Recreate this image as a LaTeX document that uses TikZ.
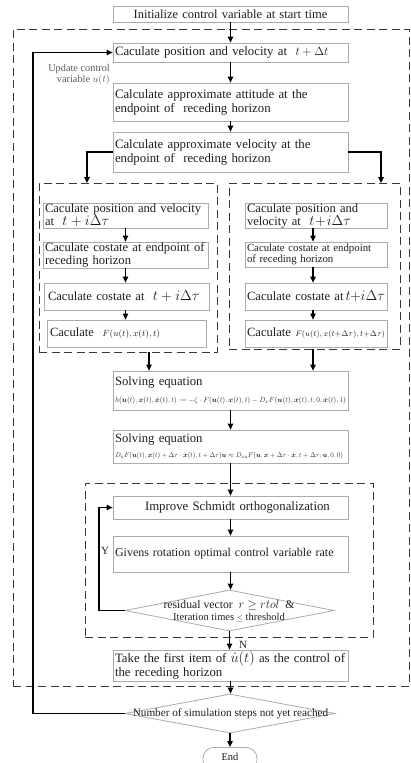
\documentclass[tikz,border=0pt]{standalone}
\usepackage{fontspec}
\setmainfont{Liberation Serif}
\usepackage{amsmath,amssymb}
\usepackage{graphicx}
\usetikzlibrary{arrows.meta,shapes.geometric}
\definecolor{boxline}{HTML}{ABABAB}
\definecolor{dashline}{HTML}{383838}
\definecolor{txt}{HTML}{1E1E1E}
\newcommand{\fsz}[2]{\fontsize{#1}{#2}\selectfont}
\newcommand{\tplus}{t\!+\!i\Delta\tau}
\begin{document}
\begin{tikzpicture}[x=1pt,y=-1pt,
  box/.style={draw=boxline, line width=0.8pt, inner xsep=2pt, inner ysep=0pt,
    align=left, text=txt, font=\fsz{12.8}{14}},
  grp/.style={draw=dashline, line width=1pt, dash pattern=on 8pt off 4.5pt,
    inner sep=0pt},
  arr/.style={draw=black, line width=1.1pt, -{Triangle[length=6pt,width=5.5pt]}},
  dia/.style={diamond, draw=boxline, line width=0.8pt, inner sep=0pt},
  lbl/.style={text=txt, inner sep=0pt},
]
\useasboundingbox (0,0) rectangle (411,763);

% dashed groupings
\node[grp, minimum width=396pt, minimum height=657pt] (outer) at (211,357.5) {};
\node[grp, minimum width=178pt, minimum height=169pt] (lgrp) at (128,267.5) {};
\node[grp, minimum width=171pt, minimum height=166pt] (rgrp) at (314.5,266) {};
\node[grp, minimum width=288pt, minimum height=154pt] (igrp) at (229,560) {};

% main column
\node[box, align=center, text width=231pt, minimum height=16pt, font=\fsz{12.5}{14}] (init) at (230.5,14)
  {Initialize control variable at start time};
\node[box, text width=231pt, minimum height=19pt] (pos) at (230.5,52.5)
  {Caculate position and velocity at \ $t+\Delta t$};
\node[box, text width=231pt, minimum height=38pt] (att) at (230.5,102)
  {Calculate approximate attitude at the\\endpoint of \ receding horizon};
\node[box, text width=231pt, minimum height=40pt] (vel) at (230.5,152)
  {Calculate approximate velocity at the\\endpoint of \ receding horizon};

% left branch
\node[box, text width=161pt, minimum height=25pt, font=\fsz{12.6}{13}] (L1) at (125.5,215.5)
  {Caculate position and velocity\\at \ {\fsz{15}{15}$t+i\Delta\tau$}};
\node[box, text width=161pt, minimum height=26pt, font=\fsz{12.6}{13}] (L2) at (125.5,255)
  {Caculate costate at endpoint of\\receding horizon};
\node[box, text width=161pt, minimum height=27pt, font=\fsz{12.6}{13}] (L3) at (126.5,296.5)
  {\hspace*{2pt}Caculate costate at \ {\fsz{15}{15}$t+i\Delta\tau$}};
\node[box, text width=155pt, minimum height=27pt, font=\fsz{12.6}{13}] (L4) at (126.5,333.5)
  {\hspace*{1pt}Caculate \ {\fsz{9.5}{10}$F(u(t),x(t),t)$}};

% right branch
\node[box, text width=138pt, minimum height=25pt, font=\fsz{12.6}{13}] (R1) at (316,215.5)
  {Caculate position and\\velocity at \ {\fsz{15}{15}$\tplus$}};
\node[box, text width=138pt, minimum height=25pt, font=\fsz{10.8}{11.5}] (R2) at (316,254.5)
  {Caculate costate at endpoint\\of receding horizon};
\node[box, text width=138pt, minimum height=27pt, font=\fsz{12.6}{13}] (R3) at (316,296.5)
  {Caculate costate at\,{\fsz{15}{15}$\tplus$}};
\node[box, text width=138pt, minimum height=27pt, font=\fsz{12.6}{13}] (R4) at (316,333.5)
  {Caculate {\fsz{7.8}{8}$F(u(t),x(t+\Delta\tau),t+\Delta\tau)$}};

% solving steps
\node[box, text width=231pt, minimum height=39pt, font=\fsz{12.7}{17}] (S1) at (230.5,390.5)
  {Solving equation\\
   \resizebox{231pt}{!}{$h(\boldsymbol{u}(t),\boldsymbol{x}(t),\dot{\boldsymbol{x}}(t),t)
   :=-\zeta\cdot F(\boldsymbol{u}(t),\boldsymbol{x}(t),t)
   -D_{x}F(\boldsymbol{u}(t),\boldsymbol{x}(t),t;0,\dot{\boldsymbol{x}}(t),1)$}};
\node[box, text width=231pt, minimum height=33pt, font=\fsz{12.7}{15.5}] (S2) at (230.5,446.5)
  {Solving equation\\
   \resizebox{228pt}{!}{$D_{u}F(\boldsymbol{u}(t),\boldsymbol{x}(t)+\Delta\tau\cdot\dot{\boldsymbol{x}}(t),t+\Delta\tau)\dot{\boldsymbol{u}}
   \approx D_{xu}F(\boldsymbol{u},\boldsymbol{x}+\Delta\tau\cdot\dot{\boldsymbol{x}},t+\Delta\tau;\dot{\boldsymbol{u}},0,0)$}};

% inner iteration
\node[box, text width=231pt, minimum height=23pt] (imp) at (230.5,507.5)
  {\hspace*{30pt}Improve Schmidt orthogonalization};
\node[box, text width=231pt, minimum height=36pt, font=\fsz{12}{14}] (giv) at (230.5,554)
  {Givens rotation optimal control variable rate};
\node[dia, minimum width=209pt, minimum height=41pt] (d1) at (229.5,610.5) {};
\node[lbl, align=center, font=\fsz{11.7}{12}] (d1t) at (229,611)
  {residual vector \ {$r\geq rtol$} \ \&\\{\fsz{10.5}{11}Iteration times {$\scriptstyle\leq$} threshold}};

\node[box, text width=231pt, minimum height=31pt, font=\fsz{12.8}{14}] (take) at (230.5,665.5)
  {Take the first item of {\fsz{13.5}{14}$\dot{u}(t)$} as the control of\\the receding horizon};
\node[dia, minimum width=210pt, minimum height=39pt] (d2) at (230,713.5) {};
\node[lbl, font=\fsz{11.2}{12}] (d2t) at (230.5,713.5)
  {Number of simulation steps not yet reached};
\node[draw=boxline, line width=0.8pt, rounded corners=11pt, minimum width=54pt,
  minimum height=24pt, inner sep=0pt, text=txt, font=\fsz{10.5}{11}, anchor=north] (endn) at (230,747)
  {\raisebox{5pt}{End}};

% labels
\node[lbl, align=right, anchor=north east, text=black!65, font=\fsz{10.3}{11.5}] (upd) at (110,64)
  {Update control\\variable {$u(t)$}};
\node[lbl, font=\fsz{11}{12}] (ylab) at (105,551) {Y};
\node[lbl, font=\fsz{11}{12}] (nlab) at (243,645) {N};

% connectors
\coordinate (lin) at (87,183);
\coordinate (rin) at (381,183);
\coordinate (lout) at (149,352);
\coordinate (rout) at (313,349);
\coordinate (yl) at (99,610.5);
\coordinate (fb) at (33,713.5);

\draw[arr] (init) -- (pos);
\draw[arr] (pos) -- (att);
\draw[arr] (att) -- (vel);
\draw[arr] (vel.west) -| (lin);
\draw[arr] (vel.east) -| (rin);
\draw[arr] (L1.south) -- (L1.south |- L2.north);
\draw[arr] (L2.south) -- (L2.south |- L3.north);
\draw[arr] (L2.south |- L3.south) -- (L2.south |- L4.north);
\draw[arr] ([xshift=-3pt]R1.south) -- ([xshift=-3pt]R1.south |- R2.north);
\draw[arr] ([xshift=-3pt]R2.south) -- ([xshift=-3pt]R2.south |- R3.north);
\draw[arr] ([xshift=-3pt]R3.south) -- ([xshift=-3pt]R3.south |- R4.north);
\draw[arr] (lout) -- (lout |- S1.north);
\draw[arr] (rout) -- (rout |- S1.north);
\draw[arr] (S1) -- (S2);
\draw[arr] (S2) -- (imp);
\draw[arr] (imp) -- (giv);
\draw[arr] (giv.south) -- (giv.south |- d1.north);
\draw[arr] (d1.south) -- (d1.south |- take.north);
\draw[arr] (take.south) -- (take.south |- d2.north);
\draw[arr] (d2.south) -- (endn.north);
\draw[arr] (d1.west) -- (yl) |- (imp.west);
\draw[arr] (d2.west) -- (fb) |- (pos.west);
\end{tikzpicture}
\end{document}
